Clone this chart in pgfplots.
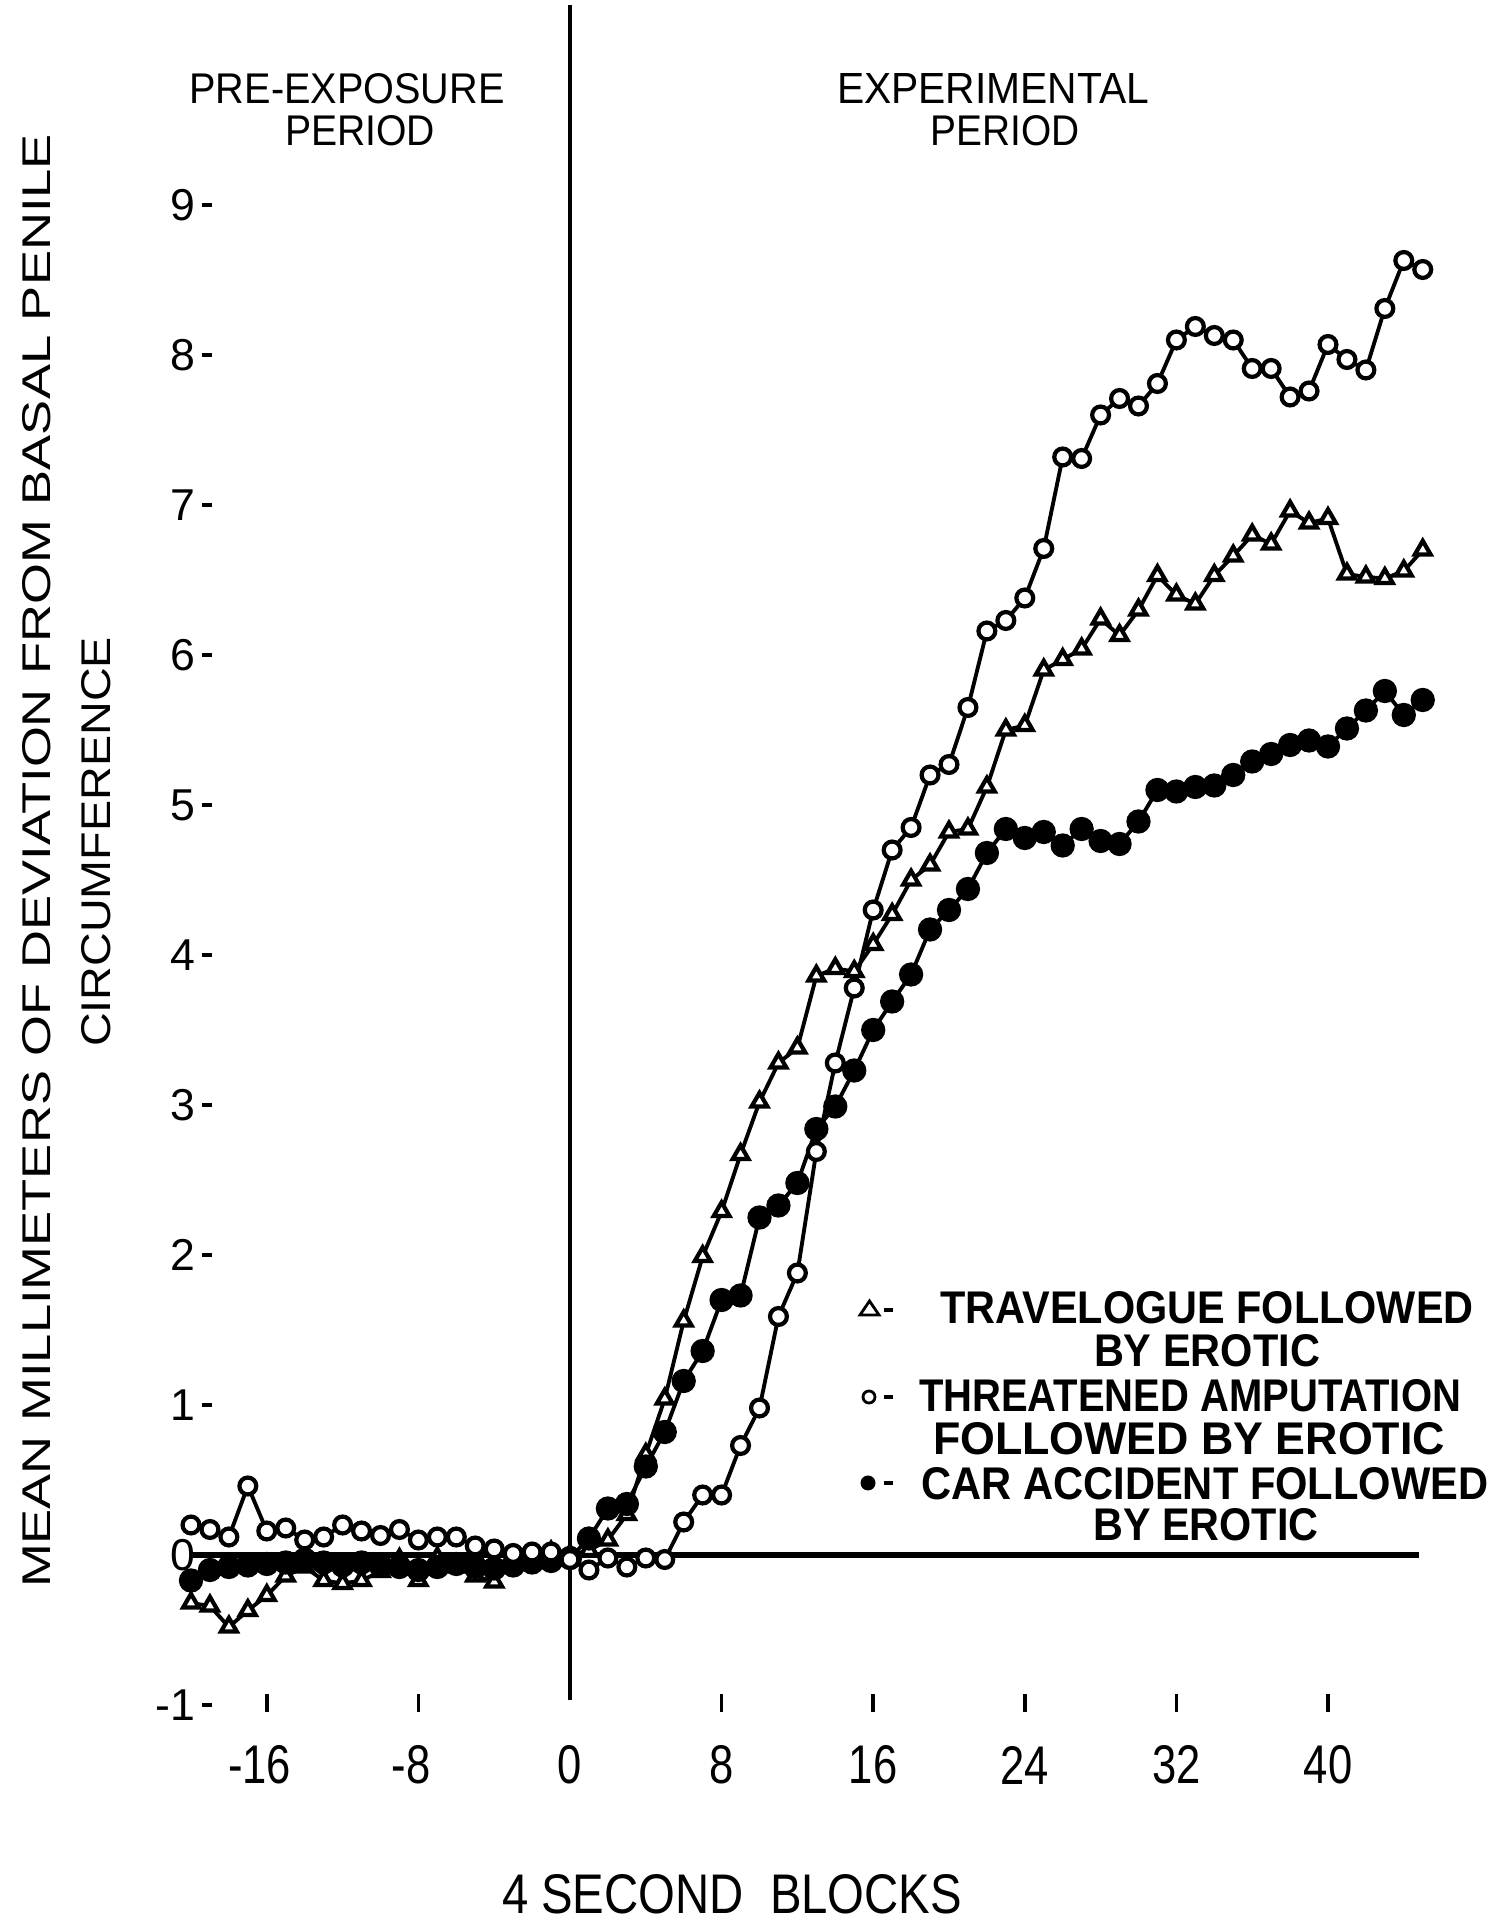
\documentclass[border=0pt]{standalone}
\usepackage{pgfplots}
\pgfplotsset{compat=1.18}
\usepackage{graphicx}
\usepackage{fontspec}
\setmainfont{Liberation Sans}

\newcommand{\txt}[3]{\resizebox{#1}{#2}{#3}}
\newcommand{\xtl}[1]{\scalebox{0.8}[1]{\fontsize{15.5}{16}\selectfont #1}}
\newcommand{\ytl}[1]{{\fontsize{12.7}{14}\selectfont #1}}

\begin{document}
\begin{tikzpicture}
\path[use as bounding box] (0,0) rectangle (150.3mm,192mm);
\begin{axis}[
  at={(19.1mm,21.5mm)}, anchor=south west,
  scale only axis, width=125.07mm, height=150mm,
  xmin=-20, xmax=46, ymin=-1, ymax=9,
  hide axis, clip=false,
]
% reference lines
\draw[line width=1.2pt] (axis cs:0,-0.97) -- (axis cs:0,10.33);
\draw[line width=1.6pt] (axis cs:-19.9,0) -- (axis cs:44.8,0);

% Travelogue followed by erotic (open triangles)
\addplot[black, line width=1.1pt, mark=triangle*, mark size=2.6pt,
  mark options={fill=white, draw=black, line width=1.2pt, solid}] coordinates {
(-20,-0.32) (-19,-0.34) (-18,-0.48) (-17,-0.37) (-16,-0.27) (-15,-0.14) (-14,-0.08)
(-13,-0.17) (-12,-0.19) (-11,-0.17) (-10,-0.11) (-9,-0.03) (-8,-0.17) (-7,-0.02)
(-6,-0.08) (-5,-0.14) (-4,-0.18) (-3,-0.04) (-2,-0.03) (-1,0.02)
(0,0.00) (1,0.03) (2,0.10) (3,0.27) (4,0.67) (5,1.04) (6,1.56) (7,1.99) (8,2.29)
(9,2.67) (10,3.02) (11,3.28) (12,3.38) (13,3.86) (14,3.91) (15,3.89) (16,4.07)
(17,4.27) (18,4.50) (19,4.60) (20,4.82) (21,4.84) (22,5.12) (23,5.50) (24,5.53)
(25,5.90) (26,5.97) (27,6.04) (28,6.24) (29,6.13) (30,6.30) (31,6.53) (32,6.40)
(33,6.34) (34,6.53) (35,6.66) (36,6.80) (37,6.74) (38,6.96) (39,6.88) (40,6.91)
(41,6.54) (42,6.52) (43,6.51) (44,6.56) (45,6.70)
};

% Car accident followed by erotic (filled circles)
\addplot[black, line width=1.1pt, mark=*, mark size=2.9pt,
  mark options={fill=black, draw=black, solid}] coordinates {
(-20,-0.17) (-19,-0.10) (-18,-0.08) (-17,-0.07) (-16,-0.06) (-15,-0.05) (-14,-0.03)
(-13,-0.05) (-12,-0.07) (-11,-0.05) (-10,-0.07) (-9,-0.08) (-8,-0.10) (-7,-0.08)
(-6,-0.06) (-5,-0.08) (-4,-0.09) (-3,-0.07) (-2,-0.05) (-1,-0.04)
(0,-0.02) (1,0.11) (2,0.31) (3,0.34) (4,0.59) (5,0.82) (6,1.16) (7,1.36) (8,1.70)
(9,1.73) (10,2.25) (11,2.33) (12,2.48) (13,2.84) (14,2.99) (15,3.23) (16,3.50)
(17,3.69) (18,3.87) (19,4.17) (20,4.30) (21,4.44) (22,4.68) (23,4.84) (24,4.78)
(25,4.82) (26,4.73) (27,4.84) (28,4.76) (29,4.74) (30,4.89) (31,5.10) (32,5.09)
(33,5.12) (34,5.13) (35,5.20) (36,5.29) (37,5.34) (38,5.40) (39,5.43) (40,5.39)
(41,5.51) (42,5.63) (43,5.76) (44,5.60) (45,5.70)
};

% Threatened amputation followed by erotic (open circles)
\addplot[black, line width=1.1pt, mark=*, mark size=2.4pt,
  mark options={fill=white, draw=black, line width=1.2pt, solid}] coordinates {
(-20,0.20) (-19,0.17) (-18,0.12) (-17,0.46) (-16,0.16) (-15,0.18) (-14,0.10)
(-13,0.12) (-12,0.20) (-11,0.16) (-10,0.13) (-9,0.17) (-8,0.10) (-7,0.12)
(-6,0.12) (-5,0.06) (-4,0.04) (-3,0.01) (-2,0.02) (-1,0.02)
(0,-0.03) (1,-0.10) (2,-0.02) (3,-0.08) (4,-0.02) (5,-0.03) (6,0.22) (7,0.40) (8,0.40)
(9,0.73) (10,0.98) (11,1.59) (12,1.88) (13,2.69) (14,3.28) (15,3.78) (16,4.30)
(17,4.70) (18,4.85) (19,5.20) (20,5.27) (21,5.65) (22,6.16) (23,6.23) (24,6.38)
(25,6.71) (26,7.32) (27,7.31) (28,7.60) (29,7.71) (30,7.66) (31,7.81) (32,8.10)
(33,8.19) (34,8.13) (35,8.10) (36,7.91) (37,7.91) (38,7.72) (39,7.76) (40,8.07)
(41,7.97) (42,7.90) (43,8.31) (44,8.63) (45,8.57)
};
\end{axis}

% y ticks (x=0 at 57.0mm, 1.895mm per block; y=0 at 36.5mm, 15mm per unit)
\foreach \v in {-1,0,...,9} {
  \draw[line width=1pt] ({57mm-19.4*1.895mm},{36.5mm+\v*15mm}) -- ({57mm-18.9*1.895mm},{36.5mm+\v*15mm});
  \node[anchor=east, inner sep=0pt] at ({57mm-19.75*1.895mm},{36.5mm+\v*15mm}) {\ytl{\v}};
}
% x ticks
\foreach \v in {-16,-8,8,16,24,32,40} {
  \draw[line width=1pt] ({57mm+\v*1.895mm},{36.5mm-0.93*15mm}) -- ({57mm+\v*1.895mm},{36.5mm-1.05*15mm});
}
\foreach \v/\l in {-16/\llap{-}16,-8/\llap{-}8,0/0,8/8,16/16,24/24,32/32,40/40} {
  \node[inner sep=0pt] at ({57mm+\v*1.895mm},{36.5mm-1.40*15mm}) {\xtl{\l}};
}

% axis titles
\node[rotate=90, inner sep=0pt] at (3.7mm,105.9mm)
  {\txt{145.4mm}{2.8mm}{MEAN MILLIMETERS OF DEVIATION FROM BASAL PENILE}};
\node[rotate=90, inner sep=0pt] at (9.6mm,107.8mm)
  {\txt{41mm}{2.9mm}{CIRCUMFERENCE}};
\node[inner sep=0pt] at (73.2mm,2.6mm) {\txt{46mm}{3.9mm}{4 SECOND\ \ BLOCKS}};

% period titles
\node[inner sep=0pt] at (34.7mm,183.1mm) {\txt{31.5mm}{3.0mm}{PRE-EXPOSURE}};
\node[inner sep=0pt] at (36.0mm,178.9mm) {\txt{15.0mm}{3.0mm}{PERIOD}};
\node[inner sep=0pt] at (99.3mm,183.1mm) {\txt{31.2mm}{3.0mm}{EXPERIMENTAL}};
\node[inner sep=0pt] at (100.5mm,178.9mm) {\txt{14.9mm}{3.0mm}{PERIOD}};

% legend
\node[inner sep=0pt] at (120.7mm,61.2mm) {\txt{53.3mm}{3.2mm}{\bfseries TRAVELOGUE FOLLOWED}};
\node[inner sep=0pt] at (120.7mm,56.9mm) {\txt{22.6mm}{3.2mm}{\bfseries BY EROTIC}};
\node[inner sep=0pt] at (119.0mm,52.4mm) {\txt{54.2mm}{3.2mm}{\bfseries THREATENED AMPUTATION}};
\node[inner sep=0pt] at (118.9mm,48.1mm) {\txt{51.2mm}{3.2mm}{\bfseries FOLLOWED BY EROTIC}};
\node[inner sep=0pt] at (120.5mm,43.6mm) {\txt{56.7mm}{3.2mm}{\bfseries CAR ACCIDENT FOLLOWED}};
\node[inner sep=0pt] at (120.6mm,39.5mm) {\txt{22.5mm}{3.2mm}{\bfseries BY EROTIC}};
\draw[line width=0.8pt, fill=white] (86.0mm,60.5mm) -- (87.9mm,60.5mm) -- (86.95mm,61.9mm) -- cycle;
\draw[line width=0.8pt, fill=white] (86.9mm,52.3mm) circle (0.6mm);
\fill (86.8mm,43.7mm) circle (0.75mm);
\foreach \yy in {61.0,52.3,43.7} \draw[line width=1pt] (88.4mm,\yy mm) -- (89.3mm,\yy mm);
\end{tikzpicture}
\end{document}
